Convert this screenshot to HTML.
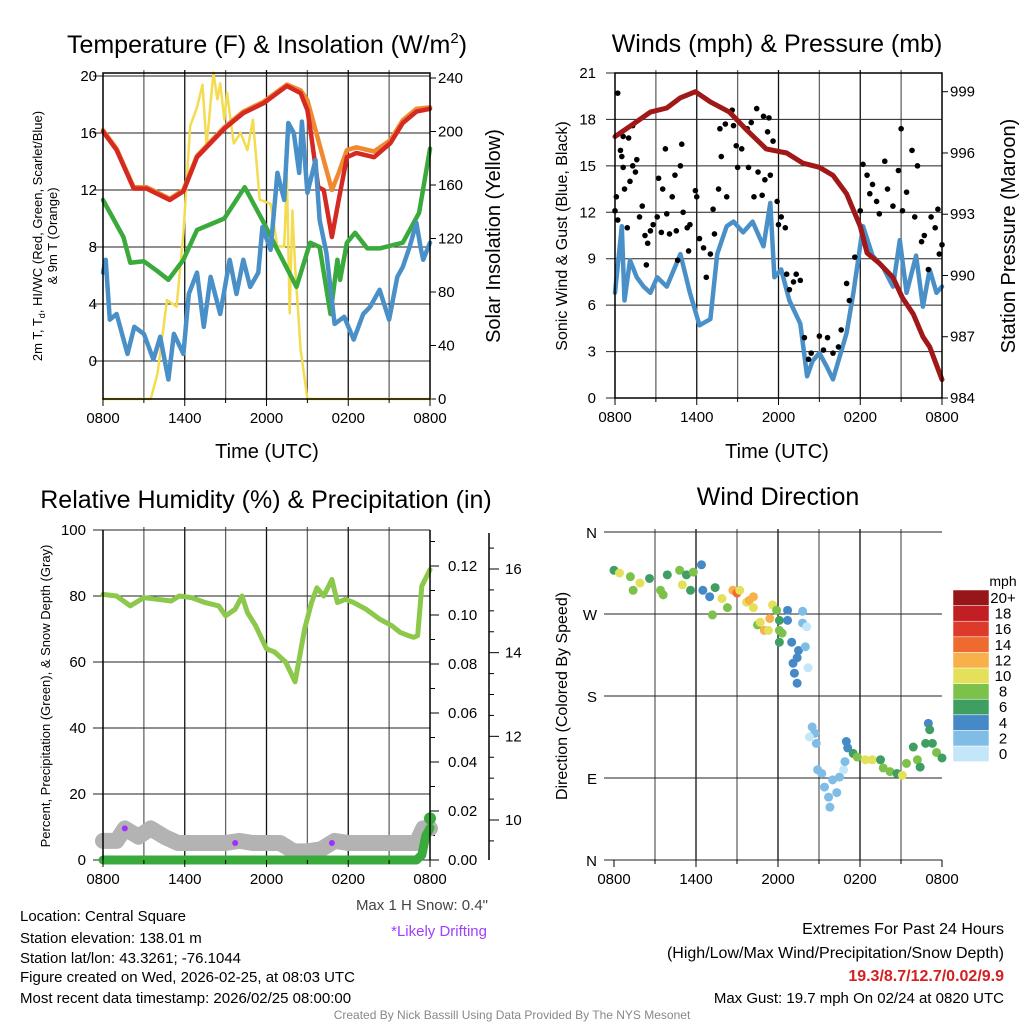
<!DOCTYPE html>
<html><head><meta charset="utf-8"><style>
html,body{margin:0;padding:0;background:#fff}
svg{display:block;font-family:"Liberation Sans",sans-serif}
</style></head><body>
<svg id="s" width="1024" height="1024" viewBox="0 0 1024 1024">
<g id="static" font-family="Liberation Sans, sans-serif">
<text x="267" y="53" font-size="25" text-anchor="middle">Temperature (F) &amp; Insolation (W/m<tspan font-size="15" dy="-10">2</tspan><tspan dy="10">)</tspan></text>
<text x="777" y="52" font-size="25" text-anchor="middle">Winds (mph) &amp; Pressure (mb)</text>
<text x="266" y="508" font-size="25" text-anchor="middle">Relative Humidity (%) &amp; Precipitation (in)</text>
<text x="778" y="505" font-size="25" text-anchor="middle">Wind Direction</text>
<text x="267" y="458" font-size="20" text-anchor="middle">Time (UTC)</text>
<text x="777" y="458" font-size="20" text-anchor="middle">Time (UTC)</text>
<text transform="translate(42,236) rotate(-90)" font-size="13" text-anchor="middle">2m T, T<tspan font-size="9" dy="3">d</tspan><tspan dy="-3">, HI/WC (Red, Green, Scarlet/Blue)</tspan></text>
<text transform="translate(57,236) rotate(-90)" font-size="13" text-anchor="middle">&amp; 9m T (Orange)</text>
<text transform="translate(500,236) rotate(-90)" font-size="20" text-anchor="middle">Solar Insolation (Yellow)</text>
<text transform="translate(567,236) rotate(-90)" font-size="16" text-anchor="middle">Sonic Wind &amp; Gust (Blue, Black)</text>
<text transform="translate(1015,236) rotate(-90)" font-size="20" text-anchor="middle">Station Pressure (Maroon)</text>
<text transform="translate(50,696) rotate(-90)" font-size="13" text-anchor="middle">Percent, Precipitation (Green), &amp; Snow Depth (Gray)</text>
<text transform="translate(567,696) rotate(-90)" font-size="16" text-anchor="middle">Direction (Colored By Speed)</text>
<g font-size="15">
<text x="20" y="921">Location: Central Square</text>
<text x="20" y="943">Station elevation: 138.01 m</text>
<text x="20" y="963">Station lat/lon: 43.3261; -76.1044</text>
<text x="20" y="982">Figure created on Wed, 2026-02-25, at 08:03 UTC</text>
<text x="20" y="1003">Most recent data timestamp: 2026/02/25 08:00:00</text>
</g>
<text x="488" y="910" font-size="15" fill="#444" text-anchor="end">Max 1 H Snow: 0.4"</text>
<text x="487" y="936" font-size="15" fill="#a040ff" text-anchor="end">*Likely Drifting</text>
<g font-size="16" text-anchor="end">
<text x="1004" y="934">Extremes For Past 24 Hours</text>
<text x="1004" y="958">(High/Low/Max Wind/Precipitation/Snow Depth)</text>
<text x="1004" y="981" fill="#d42020" font-weight="bold">19.3/8.7/12.7/0.02/9.9</text>
<text x="1004" y="1003" font-size="15">Max Gust: 19.7 mph On 02/24 at 0820 UTC</text>
</g>
<text x="512" y="1019" font-size="12" fill="#888" text-anchor="middle">Created By Nick Bassill Using Data Provided By The NYS Mesonet</text>
</g>
</svg>
<script>
// ---- data (hours after 0800 UTC) ----
const tempHours=[0,1,2.25,3.2,4.9,5.9,6.9,8.9,10.3,11.8,13.5,14.5,15,15.2,15.8,16.2,16.8,17.3,17.9,18.6,19.9,21.1,22,23,24];
const tempRed=[16.1,14.8,12.1,12.1,11.3,11.9,14.3,16.3,17.4,18.1,19.3,18.8,17.6,16.4,12.2,12,8.7,11.3,14.3,14.6,14.3,15.3,16.7,17.5,17.7];
const tempOrange=[16.2,14.9,12.2,12.2,11.4,12,14.4,16.4,17.5,18.2,19.4,19,18.3,17.6,15.5,14.1,12,13.2,14.8,15,14.7,15.5,16.9,17.7,17.8];
const dewHours=[0,1.5,2,3,4,4.8,5.9,6.9,8.9,10.4,11.8,12.8,14.2,15.2,15.9,16.7,17.2,17.4,17.9,18.5,19.4,20.3,22,23.2,24];
const dewGreen=[11.3,8.7,6.9,7,6.3,5.7,7.1,9.2,10,12.2,9.7,7.8,5.2,8.3,8,3.3,7.1,5.7,8.3,9,7.9,7.9,8.3,10.4,14.9];
const hiHours=[0,0.2,0.5,1,1.8,2.3,3,3.7,4.2,4.8,5.2,5.9,6.3,6.9,7.4,7.9,8.6,9.3,9.8,10.3,10.8,11.4,11.7,12.3,12.8,13.3,13.6,14,14.4,14.6,15,15.6,15.9,16.4,17,17.7,18.4,19.1,19.6,20.3,21,21.6,22,22.5,23,23.3,23.5,24];
const hiBlue=[6.2,7.1,2.9,3.3,0.5,2.4,1.9,0.1,1.7,-1.3,1.9,0.5,4.7,6.2,2.4,5.9,3.3,7.1,4.7,7.1,5.2,6.2,9.4,7.8,13.2,11.3,16.7,16,13.2,16.8,11.8,14.1,9.9,7.6,2.6,3.1,1.5,3.3,3.8,5,2.9,5.9,6.6,8,9.7,8,7.1,8.3];
const solHours=[0,3.5,4,4.7,5.4,5.9,6.4,6.9,7.3,7.6,8.1,8.4,8.6,8.9,9.1,9.6,10.1,10.6,11,11.5,12.3,12.8,13.3,13.5,13.7,13.9,14.1,14.5,15,24];
const solar=[0,0,19,74,69,124,204,218,235,189,244,224,236,209,229,191,199,186,209,149,146,114,114,166,64,141,99,37,0,0];
const presHours=[0,1.3,2.6,3.8,4.8,5.9,7,8.4,9.7,11.1,12.6,13.8,15,16,17,18,18.5,19.4,20.4,21.1,21.9,22.6,23.1,24];
const pressure=[996.8,997.4,998,998.2,998.7,999,998.5,998,997.1,996.2,996,995.5,995.3,994.9,994,992.4,991.1,990.6,989.9,988.9,988.1,987,986.5,984.9];
const windHours=[0,0.5,0.7,1.1,1.6,2.1,2.6,3.1,3.8,4.8,5.5,6.2,7,7.5,8.2,8.7,9.4,10.1,10.9,11.4,11.7,12.2,12.8,13.6,14.1,14.5,15,15.5,16,16.5,17,17.5,18.2,18.9,19.7,20.4,20.9,21.4,22.1,22.6,23.1,23.6,24];
const windSpeed=[6.8,11.1,6.3,8.9,7.8,7.2,6.8,7.8,7.2,9.3,6.8,4.7,5.1,9.3,11.1,11.4,10.7,11.4,9.8,12.6,7.8,8.3,6.3,4.8,1.4,2.4,2.9,2.1,1.2,2.7,4.2,6.8,11.1,9.2,8.4,7.2,10.2,6.8,9.2,5.9,8.3,6.8,7.2];
const gustHours=[0.2,0,0.1,0.2,0.4,0.5,0.6,0.6,0.7,0.9,1,1.1,1.3,1.3,1.5,1.6,1.8,2,2.2,2.3,2.4,2.6,2.8,3.1,3.2,3.4,3.5,3.7,3.8,4,4.2,4.4,4.5,4.6,4.8,4.9,5,5.3,5.4,5.5,5.9,6,6.2,6.5,6.7,7,7.2,7.3,7.6,7.7,7.8,8.1,8.2,8.6,8.7,8.9,9,9.3,9.7,9.8,10,10.2,10.4,10.5,10.8,10.9,11,11.2,11.3,11.4,11.6,11.9,12,12.2,12.5,12.6,12.8,13.1,13.3,13.6,13.9,14.2,14.4,15,15.3,15.6,16,16.4,16.6,17,17.2,17.6,18,18.2,18.5,18.7,18.9,19.2,19.4,19.8,20,20.4,20.8,21,21.1,21.4,21.8,22,22.2,22.5,22.7,23,23.2,23.5,23.7,23.8,24];
const gust=[19.7,12.1,13,11.5,16,15.6,14.9,16.9,13.5,11,16.8,14,17.6,15,14.6,15.4,11.7,12.4,10.5,8.6,10,10.8,11.2,11.7,14.2,10.7,13.5,16.1,11.9,10.6,13,14.4,10.8,8.9,15,16.4,12,11,9.5,11.2,13.4,13,10.3,9.7,7.8,9.3,12.2,10.6,13.5,17.4,15.6,17.7,13,18.6,17.6,16.3,14.9,16.1,17.4,14.9,17.8,13,18.7,14.6,13.1,18.2,14.1,17.2,18.1,14.4,16.6,12.7,11.2,11.7,11,8,7,7.5,8,7.6,3.9,2.5,2.9,4,3.1,3.9,2.9,3.3,4.4,7.4,6.3,9.1,12.1,15.1,14.4,13.2,13.8,12.7,11.9,15.3,13.5,12.4,14.7,17.4,12.1,13.3,16,11.7,15,10.1,10.5,8.3,11.7,11,12.2,9.3,9.9];
const rhHours=[0,1,2,3,4,5,5.6,6.5,7.5,8.5,9,9.7,10.2,10.6,11.2,12,12.6,13.4,14.1,14.8,15.3,15.7,16.2,16.8,17.2,17.8,18.4,19.3,20.3,21.2,21.8,22.4,22.8,23.1,23.4,24];
const rh=[80.5,80,77,79.5,79,78.5,80,79.5,78,77,74,76,80,75,71,64,63,60,54,70,78,82.5,80,85,78,79,78,76,73,71,69,68,67.5,68,83,88];
const snowHours=[0,1,1.6,2.6,3.5,4.5,5.5,7,9,10,11,12,13,14,15,16,17,18,19,20,21,22,23,23.5,24];
const snowDepth=[9.5,9.5,9.8,9.6,9.8,9.6,9.45,9.45,9.45,9.5,9.45,9.45,9.45,9.25,9.25,9.3,9.5,9.45,9.45,9.45,9.45,9.45,9.45,9.8,9.8];
const driftHours=[1.6,9.7,16.8];
const driftDepth=[9.8,9.45,9.45];
const precipHours=[0,23,23.4,23.7,24];
const precip=[0,0,0.002,0.01,0.013];
const precipMaxHour=[24];
const precipMax=[0.017];
const dirHours=[0,0.4,1.2,1.4,1.9,2.6,3.4,3.6,3.9,4.8,5,5.3,5.6,5.8,6.4,6.5,7,7.4,7.2,7.9,8.3,8.7,9,9.2,9.7,9.9,10.2,10.2,10.5,10.7,11,11.3,11.4,11.6,11.9,12.1,12.1,12.3,12.1,12.7,12.7,13,13.5,13.4,13.1,13.2,13.4,13.8,13.8,14.1,14,14.2,14.5,14.7,14.8,14.3,14.9,15.2,15.4,15.7,15.8,16,16.3,16.5,16.8,16.9,17,17.1,17.5,17.8,18.4,18.9,19.5,19.7,20.2,20.7,21.1,21.4,21.9,22.2,22.4,22.8,23,23.1,23.3,23.6,24];
const dirDeg=[318,315,311,296,304,309,296,291,313,318,302,313,296,316,324,296,289,299,269,287,277,296,293,296,283,285,289,277,258,261,252,252,265,280,274,263,252,249,239,274,263,239,230,222,216,205,194,273,260,256,234,211,146,139,128,135,99,95,80,69,58,88,74,91,99,108,130,123,117,113,110,110,110,101,97,95,93,106,124,110,102,128,150,143,128,118,112];
const dirSpeed=[6,10,8,8,10,6,8,8,6,8,10,6,6,8,4,4,4,6,8,10,8,12,14,10,10,12,12,10,8,10,12,10,12,10,8,6,8,8,6,4,4,4,4,4,4,4,4,2,2,0,2,0,2,2,2,0,2,2,2,2,2,2,2,2,0,2,4,4,6,8,10,10,6,8,8,6,10,8,6,8,6,6,4,6,6,8,6];
const scaleLabels=["0","2","4","6","8","10","12","14","16","18","20+"];
const scaleColors=["#c3e6f8","#80bde6","#4589c6","#3f9f63","#7cc24a","#e4e05a","#f8b04a","#ef6a2e","#dd3a2b","#c21f24","#961619"];
const tickTimes=["0800","1400","2000","0200","0800"];

// ---- helpers ----
const S=document.getElementById('s');const NS='http://www.w3.org/2000/svg';
function el(tag,attrs,parent){const e=document.createElementNS(NS,tag);for(const k in attrs)e.setAttribute(k,attrs[k]);(parent||S).appendChild(e);return e;}
function lin(d0,d1,r0,r1){return v=>r0+(v-d0)*(r1-r0)/(d1-d0);}
function line(xs,ys,fx,fy,color,w,name){const p=xs.map((h,i)=>fx(h).toFixed(1)+','+fy(ys[i]).toFixed(1)).join(' ');const e=el('polyline',{points:p,fill:'none',stroke:color,'stroke-width':w,'stroke-linejoin':'round','stroke-linecap':'round'});

return e;}
function txt(x,y,s,anchor,size){const t=el('text',{x:x,y:y,'font-size':size||15,'text-anchor':anchor||'middle'});t.textContent=s;

return t;}
function frame(x0,y0,x1,y1,name){const g=el('g',{});


for(let i=1;i<8;i++){const x=x0+(x1-x0)*i/8;el('line',{x1:x,y1:y0-3,x2:x,y2:y1,stroke:i%2?'#666':'#111','stroke-width':1.3},g);}
return g;}
function xticks(x0,x1,yb){for(let i=0;i<=8;i++){const x=x0+(x1-x0)*i/8;el('line',{x1:x,y1:yb,x2:x,y2:yb+(i%2?4:7),stroke:'#000'});}
tickTimes.forEach((t,i)=>txt(x0+(x1-x0)*i/4,yb+24,t));}
function border(x0,y0,x1,y1){el('rect',{x:x0,y:y0,width:x1-x0,height:y1-y0,fill:'none',stroke:'#000','stroke-width':1.5});}

// ---- Panel 1: temperature ----
{const X=lin(0,24,103,430),Y=lin(0,20,361,76),YS=lin(0,240,399,78);
frame(103,73,430,399,'temp-grid');
[0,4,8,12,16,20].forEach(v=>{el('line',{x1:93,x2:430,y1:Y(v),y2:Y(v),stroke:'#222','stroke-width':1});txt(97,Y(v)+5,String(v),'end');});
[0,40,80,120,160,200,240].forEach(v=>{txt(438,YS(v)+5,String(v),'start');el('line',{x1:430,x2:436,y1:YS(v),y2:YS(v),stroke:'#000'});});
line(solHours,solar,X,YS,'#f4dc50',2.5,'solar-insolation-line');
line(dewHours,dewGreen,X,Y,'#3aaa3c',4.5,'dewpoint-line');
line(tempHours,tempOrange,X,Y,'#f08a30',4.5,'temp-9m-line');
line(tempHours,tempRed,X,Y,'#d42a22',4.5,'temp-2m-line');
line(hiHours,hiBlue,X,Y,'#4a90c8',4.5,'windchill-line');
border(103,73,430,399);xticks(103,430,399);}

// ---- Panel 2: winds ----
{const X=lin(0,24,615,942),Y=lin(0,21,398,73),YP=lin(984,999,398,91.7);
frame(615,73,942,398,'wind-grid');
for(let v=0;v<=21;v+=3){el('line',{x1:606,x2:942,y1:Y(v),y2:Y(v),stroke:'#222'});txt(596,Y(v)+5,String(v),'end');}
for(let v=984;v<=999;v+=3){txt(950,YP(v)+5,String(v),'start');el('line',{x1:942,x2:948,y1:YP(v),y2:YP(v),stroke:'#000'});}
line(windHours,windSpeed,X,Y,'#4a90c8',4.5,'sonic-wind-line');
gustHours.forEach((h,i)=>{const c=el('circle',{cx:X(h),cy:Y(gust[i]),r:2.8,fill:'#000'});

});
line(presHours,pressure,X,YP,'#a01818',5,'pressure-line');
border(615,73,942,398);xticks(615,942,398);}

// ---- Panel 3: humidity ----
{const X=lin(0,24,103,430),Y=lin(0,100,860,530),YR=lin(0,0.12,860,566),YD=lin(10,16,820,569);
frame(103,530,430,860,'rh-grid');
[0,20,40,60,80,100].forEach(v=>{el('line',{x1:93,x2:430,y1:Y(v),y2:Y(v),stroke:'#222'});txt(86,Y(v)+5,String(v),'end');});
for(let v=0;v<=0.13;v+=0.01){const y=YR(v);el('line',{x1:430,x2:(Math.round(v*100)%2?435:439),y1:y,y2:y,stroke:'#000'});}
[0,0.02,0.04,0.06,0.08,0.1,0.12].forEach(v=>txt(448,YR(v)+5,v.toFixed(2),'start'));
el('line',{x1:489,x2:489,y1:533,y2:860,stroke:'#000','stroke-width':1.5});
for(let v=9.5;v<=16.8;v+=0.5){const y=YD(v);el('line',{x1:489,x2:(v%2===0?499:494),y1:y,y2:y,stroke:'#000'});}
[10,12,14,16].forEach(v=>txt(505,YD(v)+5,String(v),'start'));
line(snowHours,snowDepth,X,YD,'#b3b3b3',16,'snow-depth-line');
driftHours.forEach((h,i)=>{const c=el('circle',{cx:X(h),cy:YD(driftDepth[i]),r:3,fill:'#a030ff'});

});
line(precipHours,precip,X,YR,'#3aaa3c',9,'precipitation-line');
precipMaxHour.forEach((h,i)=>{const c=el('circle',{cx:X(h),cy:YR(precipMax[i]),r:6,fill:'#3aaa3c'});

});
line(rhHours,rh,X,Y,'#8cc84b',5,'relative-humidity-line');
el('line',{x1:103,x2:103,y1:530,y2:860,stroke:'#000','stroke-width':1.5});el('line',{x1:430,x2:430,y1:530,y2:860,stroke:'#000','stroke-width':1.5});
xticks(103,430,860);}

// ---- Panel 4: wind direction ----
{const X=lin(0,24,614,942),Y=lin(0,360,860,532);
frame(614,532,942,860,'direction-grid');
[['N',0],['W',270],['S',180],['E',90],['N',360]].forEach(([l,d])=>{el('line',{x1:604,x2:942,y1:Y(d),y2:Y(d),stroke:'#222'});txt(597,Y(d)+6,l,'end',15);});
dirHours.forEach((h,i)=>{const k=Math.min(10,Math.round(dirSpeed[i]/2));const c=el('circle',{cx:X(h),cy:Y(dirDeg[i]),r:4.5,fill:scaleColors[k]});

});
xticks(614,942,860);
const g=el('g',{});


txt(1003,586,'mph','middle',14);
scaleColors.forEach((c,i)=>{const y=746-i*15.6;el('rect',{x:953,y:y,width:36,height:15.6,fill:c,stroke:'#fff','stroke-width':0.5},g);txt(1003,y+13,scaleLabels[i],'middle',15);});
}
</script>
</body></html>
